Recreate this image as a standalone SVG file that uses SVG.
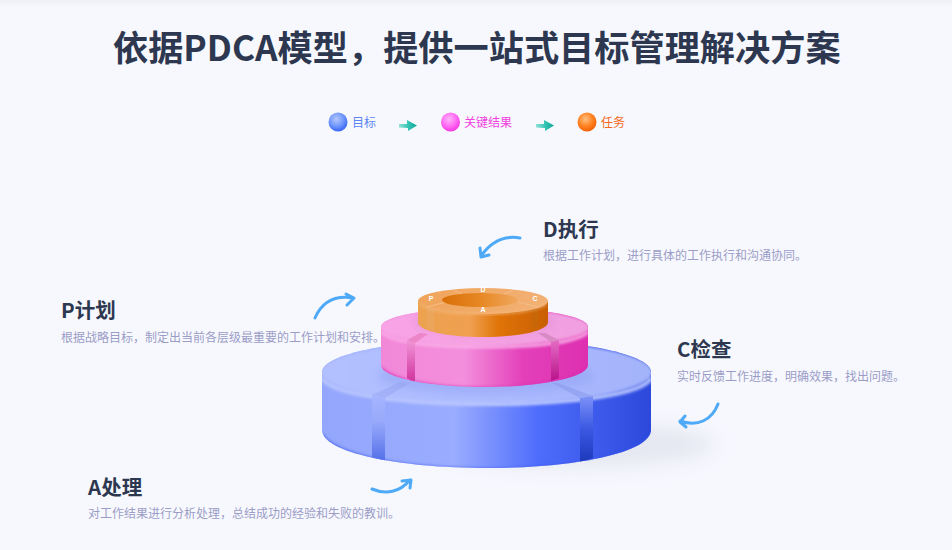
<svg xmlns="http://www.w3.org/2000/svg" width="952" height="550" viewBox="0 0 952 550">
<style>
text{font-family:"Noto Sans CJK SC","Noto Sans",sans-serif}
.t{font-size:35.2px;font-weight:700;fill:#2d3850}
.h{font-size:20.500px;font-weight:700;fill:#2d3850}
.d{font-size:12px;fill:#9b9dc6}
.l{font-size:12px}
.a{fill:none;stroke:#4eaaf7;stroke-width:3;stroke-linecap:round;stroke-linejoin:round}
.o{font-size:7px;fill:#fff;font-weight:700;font-family:"Liberation Sans",sans-serif;text-anchor:middle}
</style>
<defs>
<linearGradient id="top" x1="0" y1="0" x2="0" y2="1"><stop offset="0" stop-color="#eef0f5"/><stop offset="1" stop-color="#f7f8fe"/></linearGradient>
<radialGradient id="b1" cx=".42" cy=".35" r=".7"><stop offset="0" stop-color="#b5c8fd"/><stop offset=".55" stop-color="#6f96fb"/><stop offset="1" stop-color="#2f5cf5"/></radialGradient>
<radialGradient id="b2" cx=".42" cy=".35" r=".7"><stop offset="0" stop-color="#ffb5fa"/><stop offset=".55" stop-color="#ff6cf3"/><stop offset="1" stop-color="#f52ee3"/></radialGradient>
<radialGradient id="b3" cx=".42" cy=".35" r=".7"><stop offset="0" stop-color="#ffc083"/><stop offset=".55" stop-color="#ff8220"/><stop offset="1" stop-color="#f05a00"/></radialGradient>
<linearGradient id="ar" x1="0" y1="0" x2="1" y2="0"><stop offset="0" stop-color="#8fe2d6"/><stop offset=".5" stop-color="#36c4b4"/><stop offset="1" stop-color="#0ca698"/></linearGradient>
<linearGradient id="bs" x1="0" y1="0" x2="1" y2="0"><stop offset="0" stop-color="#93a6fc"/><stop offset=".4" stop-color="#9aacfe"/><stop offset=".65" stop-color="#4f6dfc"/><stop offset="1" stop-color="#2a47da"/></linearGradient>
<linearGradient id="bt" x1="0" y1="0" x2="1" y2="0"><stop offset="0" stop-color="#b2c0ff"/><stop offset=".6" stop-color="#acbaff"/><stop offset="1" stop-color="#a3b3fa"/></linearGradient>
<linearGradient id="ps" x1="0" y1="0" x2="1" y2="0"><stop offset="0" stop-color="#f287d8"/><stop offset=".4" stop-color="#f38fdc"/><stop offset=".68" stop-color="#e340ba"/><stop offset="1" stop-color="#dd2fb0"/></linearGradient>
<linearGradient id="pt" x1="0" y1="0" x2="1" y2="0"><stop offset="0" stop-color="#f8a4e6"/><stop offset="1" stop-color="#f09fe0"/></linearGradient>
<linearGradient id="os" x1="0" y1="0" x2="1" y2="0"><stop offset="0" stop-color="#eca24f"/><stop offset=".4" stop-color="#f0a050"/><stop offset=".62" stop-color="#e07408"/><stop offset="1" stop-color="#c95e02"/></linearGradient>
<linearGradient id="ot" x1="0" y1="0" x2="1" y2="0"><stop offset="0" stop-color="#f0a45a"/><stop offset="1" stop-color="#f2b175"/></linearGradient>
<linearGradient id="oh" x1="0" y1="0" x2="1" y2="0"><stop offset="0" stop-color="#d86f05"/><stop offset=".55" stop-color="#e88a28"/><stop offset="1" stop-color="#f0a860"/></linearGradient>
<linearGradient id="sb1" x1="0" y1="0" x2="0" y2="1"><stop offset="0" stop-color="#a5b5ff"/><stop offset=".4" stop-color="#98a9fb"/><stop offset="1" stop-color="#5470ea"/></linearGradient>
<linearGradient id="sb2" x1="0" y1="0" x2="0" y2="1"><stop offset="0" stop-color="#7e92f8"/><stop offset=".5" stop-color="#3a58e2"/><stop offset="1" stop-color="#1c39bb"/></linearGradient>
<linearGradient id="sp1" x1="0" y1="0" x2="0" y2="1"><stop offset="0" stop-color="#f196d6"/><stop offset="1" stop-color="#d0309c"/></linearGradient>
<linearGradient id="sp2" x1="0" y1="0" x2="0" y2="1"><stop offset="0" stop-color="#e56cc4"/><stop offset="1" stop-color="#b8138a"/></linearGradient>
<filter id="bl" x="-30%" y="-60%" width="160%" height="220%"><feGaussianBlur stdDeviation="10"/></filter>
<filter id="s1" x="-5%" y="-20%" width="110%" height="140%"><feGaussianBlur stdDeviation="1.500"/></filter>
<filter id="s3" x="-10%" y="-40%" width="120%" height="180%"><feGaussianBlur stdDeviation="4"/></filter>
<clipPath id="cb"><path d="M322 372V430C322 452 396 468 487 468S651 452 651 430V372C651 354 577 339 487 339S322 354 322 372Z"/></clipPath>
<clipPath id="cp"><path d="M381 327V365C381 377 427 387 484.500 387S588 377 588 365V327C588 316 542 308 484.500 308S381 316 381 327Z"/></clipPath>
<g id="go"><path d="M0 0L8 0L8-4L18 1.500L9 7L9 4L0 3.500Z" fill="url(#ar)"/></g>
</defs>
<rect width="952" height="550" fill="#f7f8fe"/>
<rect width="952" height="7" fill="url(#top)"/>
<text class="t" x="113" y="61">依据PDCA模型，提供一站式目标管理解决方案</text>

<g id="legend">
<circle cx="338" cy="122" r="9.500" fill="url(#b1)"/><text class="l" x="352" y="127" fill="#5b85f4">目标</text>
<use href="#go" x="399" y="124"/>
<circle cx="450.500" cy="122" r="9.500" fill="url(#b2)"/><text class="l" x="464" y="127" fill="#f03fdf">关键结果</text>
<use href="#go" x="536" y="124"/>
<circle cx="587" cy="122" r="9.500" fill="url(#b3)"/><text class="l" x="601" y="127" fill="#f4681a">任务</text>
</g>

<g id="disk">
<ellipse cx="575" cy="445" rx="140" ry="22" fill="#c9cddd" opacity=".4" filter="url(#bl)"/>
<g clip-path="url(#cb)">
<rect x="320" y="335" width="335" height="135" fill="url(#bs)"/>
<ellipse cx="486.500" cy="372" rx="166" ry="32" fill="url(#bt)" filter="url(#s1)"/>
<path d="M322 378C330 394 400 404 487 404S644 394 651 378" fill="none" stroke="#b9c6ff" stroke-width="4" filter="url(#s1)"/>
<path d="M322 432C330 452 396 468 487 468S645 452 651 432V472H322Z" fill="#3a58ee" opacity=".8" filter="url(#s1)"/>
<path d="M372 395L385 398V461L372 458Z" fill="url(#sb1)"/>
<path d="M580 398L593 396V458L580 462Z" fill="url(#sb2)"/>
<path d="M372 395L400 382L410 383L385 398Z" fill="#a3b1f8"/>
<path d="M580 398L593 396L558 383L552 383Z" fill="#97a6f2"/>
<ellipse cx="486" cy="376" rx="108" ry="18" fill="#8e9ff0" opacity=".45" filter="url(#s3)"/>
</g>
<g clip-path="url(#cp)">
<rect x="380" y="305" width="210" height="85" fill="url(#ps)"/>
<ellipse cx="484.500" cy="327" rx="105" ry="19" fill="url(#pt)" filter="url(#s1)"/>
<path d="M381 332C390 342 430 347 484.500 347S578 342 588 332" fill="none" stroke="#fbb3ea" stroke-width="2.500" filter="url(#s1)"/>
<path d="M381 366C390 378 430 387 484.500 387S578 378 588 366V392H381Z" fill="#d92cb0" opacity=".8" filter="url(#s1)"/>
<path d="M407 340L415 343V383L407 378Z" fill="url(#sp1)"/>
<path d="M551 342L559 340V378L551 381Z" fill="url(#sp2)"/>
<path d="M407 340L420 333L428 334L415 343Z" fill="#ec86c8"/>
<path d="M551 342L559 340L545 333L538 333Z" fill="#d88ac4"/>
<ellipse cx="484" cy="322" rx="70" ry="12" fill="#d88fce" opacity=".5" filter="url(#s3)"/>
</g>
<path d="M418 301V322C418 331 447 337 483 337S548 331 548 322V301Z" fill="url(#os)"/>
<path d="M427 306L434 309V331L427 328Z" fill="#eba65c"/>
<path d="M532 309L538 306V328L532 331Z" fill="#c76708"/>
<ellipse cx="483" cy="301" rx="65" ry="13" fill="url(#ot)"/>
<path d="M419 304C428 310 450 314 483 314S538 310 547 304" fill="none" stroke="#f6bd85" stroke-width="1.500" filter="url(#s1)"/>
<path d="M427 307L446 302M538 307L518 302M455 291L462 294M512 291L504 294" fill="none" stroke="#f6c08e" stroke-width="1" opacity=".8"/>
<ellipse cx="480" cy="300" rx="38" ry="7" fill="url(#oh)"/>
<text class="o" x="483" y="312">A</text><text class="o" x="431" y="301">P</text><text class="o" x="483" y="292" font-size="5">D</text><text class="o" x="535" y="301">C</text>
</g>

<g id="connectors">
<path class="a" d="M315 318C322 302 334 295 353 298M346 294L354 298L347 305"/>
<path class="a" d="M520 238C503 235 490 243 481 256M480 248L481 257L489 255"/>
<path class="a" d="M718 404C712 420 698 427 680 421M685 416L680 422L686 427"/>
<path class="a" d="M372 489C386 495 400 492 410 480M402 481L411 480L410 488"/>
</g>

<g id="node-d"><text class="h" x="543" y="237">D执行</text><text class="d" x="543" y="260">根据工作计划，进行具体的工作执行和沟通协同。</text></g>
<g id="node-p"><text class="h" x="61" y="318">P计划</text><text class="d" x="61" y="342">根据战略目标，制定出当前各层级最重要的工作计划和安排。</text></g>
<g id="node-c"><text class="h" x="677" y="357">C检查</text><text class="d" x="677" y="381">实时反馈工作进度，明确效果，找出问题。</text></g>
<g id="node-a"><text class="h" x="88" y="495">A处理</text><text class="d" x="88" y="518">对工作结果进行分析处理，总结成功的经验和失败的教训。</text></g>
</svg>
